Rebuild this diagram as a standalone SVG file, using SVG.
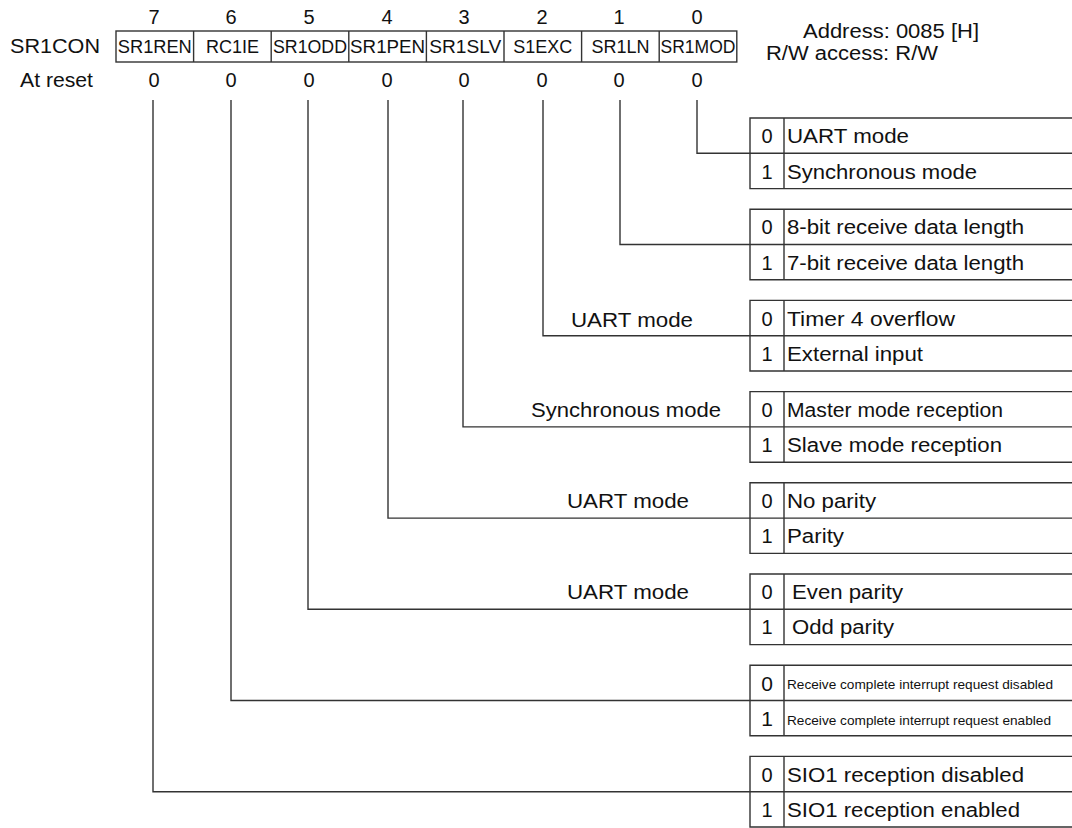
<svg xmlns="http://www.w3.org/2000/svg" width="1072" height="828" viewBox="0 0 1072 828">
<style>
text{font-family:"Liberation Sans",Arial,sans-serif;fill:#111}
.t{font-size:20px}
.c{font-size:18px}
.m{text-anchor:middle}
.e{text-anchor:end}
.s{font-size:13.5px}
.ln{stroke:#333;stroke-width:1.4;fill:none}
.bx{stroke:#333;stroke-width:1.4;fill:#fff}
</style>
<rect width="1072" height="828" fill="#fff"/>
<g id="register">
  <text class="t m" x="154" y="24">7</text>
  <text class="t m" x="231" y="24">6</text>
  <text class="t m" x="309" y="24">5</text>
  <text class="t m" x="387" y="24">4</text>
  <text class="t m" x="464" y="24">3</text>
  <text class="t m" x="542" y="24">2</text>
  <text class="t m" x="619" y="24">1</text>
  <text class="t m" x="697" y="24">0</text>
  <text class="t" x="10" y="53" textLength="90" lengthAdjust="spacingAndGlyphs">SR1CON</text>
  <rect class="bx" x="116" y="31" width="620.8" height="31"/>
  <path class="ln" d="M193.6 31V62M271.2 31V62M348.8 31V62M426.4 31V62M504 31V62M581.6 31V62M659.2 31V62"/>
  <text class="c m" x="154.8" y="52.5" textLength="74" lengthAdjust="spacingAndGlyphs">SR1REN</text>
  <text class="c m" x="232.4" y="52.5">RC1IE</text>
  <text class="c m" x="310" y="52.5" textLength="74" lengthAdjust="spacingAndGlyphs">SR1ODD</text>
  <text class="c m" x="387.6" y="52.5" textLength="75" lengthAdjust="spacingAndGlyphs">SR1PEN</text>
  <text class="c m" x="465.2" y="52.5" textLength="72" lengthAdjust="spacingAndGlyphs">SR1SLV</text>
  <text class="c m" x="542.8" y="52.5">S1EXC</text>
  <text class="c m" x="620.4" y="52.5">SR1LN</text>
  <text class="c m" x="698" y="52.5" textLength="75" lengthAdjust="spacingAndGlyphs">SR1MOD</text>
  <text class="t" x="20" y="87" textLength="73" lengthAdjust="spacingAndGlyphs">At reset</text>
  <text class="t m" x="154" y="87">0</text>
  <text class="t m" x="231" y="87">0</text>
  <text class="t m" x="309" y="87">0</text>
  <text class="t m" x="387" y="87">0</text>
  <text class="t m" x="464" y="87">0</text>
  <text class="t m" x="542" y="87">0</text>
  <text class="t m" x="619" y="87">0</text>
  <text class="t m" x="697" y="87">0</text>
  <text class="t" x="803" y="38" textLength="176" lengthAdjust="spacingAndGlyphs">Address: 0085 [H]</text>
  <text class="t" x="766" y="60" textLength="172" lengthAdjust="spacingAndGlyphs">R/W access: R/W</text>
</g>
<g id="connectors" class="ln">
  <path d="M697 100V153.3H750"/>
  <path d="M620 100V244.5H750"/>
  <path d="M543 100V335.7H750"/>
  <path d="M463 100V426.9H750"/>
  <path d="M388 100V518.1H750"/>
  <path d="M308 100V609.3H750"/>
  <path d="M231 100V700.5H750"/>
  <path d="M153 100V791.7H750"/>
</g>
<g id="bit0">
  <path class="ln" d="M1073 118H750V188.6H1073M750 153.3H1073M784 118V188.6"/>
  <text class="t m" x="767" y="143">0</text><text class="t" x="787" y="143" textLength="122" lengthAdjust="spacingAndGlyphs">UART mode</text>
  <text class="t m" x="767" y="178.5">1</text><text class="t" x="787" y="178.5" textLength="190" lengthAdjust="spacingAndGlyphs">Synchronous mode</text>
</g>
<g id="bit1">
  <path class="ln" d="M1073 209.2H750V279.8H1073M750 244.5H1073M784 209.2V279.8"/>
  <text class="t m" x="767" y="234">0</text><text class="t" x="787" y="234" textLength="237" lengthAdjust="spacingAndGlyphs">8-bit receive data length</text>
  <text class="t m" x="767" y="269.5">1</text><text class="t" x="787" y="269.5" textLength="237" lengthAdjust="spacingAndGlyphs">7-bit receive data length</text>
</g>
<g id="bit2">
  <text class="t" x="571" y="327" textLength="122" lengthAdjust="spacingAndGlyphs">UART mode</text>
  <path class="ln" d="M1073 300.4H750V371H1073M750 335.7H1073M784 300.4V371"/>
  <text class="t m" x="767" y="325.5">0</text><text class="t" x="787" y="325.5" textLength="168" lengthAdjust="spacingAndGlyphs">Timer 4 overflow</text>
  <text class="t m" x="767" y="361">1</text><text class="t" x="787" y="361" textLength="136" lengthAdjust="spacingAndGlyphs">External input</text>
</g>
<g id="bit3">
  <text class="t" x="531" y="417" textLength="190" lengthAdjust="spacingAndGlyphs">Synchronous mode</text>
  <path class="ln" d="M1073 391.6H750V462.2H1073M750 426.9H1073M784 391.6V462.2"/>
  <text class="t m" x="767" y="416.5">0</text><text class="t" x="787" y="416.5" textLength="216" lengthAdjust="spacingAndGlyphs">Master mode reception</text>
  <text class="t m" x="767" y="452">1</text><text class="t" x="787" y="452" textLength="215" lengthAdjust="spacingAndGlyphs">Slave mode reception</text>
</g>
<g id="bit4">
  <text class="t" x="567" y="508" textLength="122" lengthAdjust="spacingAndGlyphs">UART mode</text>
  <path class="ln" d="M1073 482.8H750V553.4H1073M750 518.1H1073M784 482.8V553.4"/>
  <text class="t m" x="767" y="507.5">0</text><text class="t" x="787" y="507.5" textLength="89" lengthAdjust="spacingAndGlyphs">No parity</text>
  <text class="t m" x="767" y="543">1</text><text class="t" x="787" y="543" textLength="57" lengthAdjust="spacingAndGlyphs">Parity</text>
</g>
<g id="bit5">
  <text class="t" x="567" y="599" textLength="122" lengthAdjust="spacingAndGlyphs">UART mode</text>
  <path class="ln" d="M1073 574H750V644.6H1073M750 609.3H1073M784 574V644.6"/>
  <text class="t m" x="767" y="598.5">0</text><text class="t" x="792" y="598.5" textLength="111" lengthAdjust="spacingAndGlyphs">Even parity</text>
  <text class="t m" x="767" y="634">1</text><text class="t" x="792" y="634" textLength="102" lengthAdjust="spacingAndGlyphs">Odd parity</text>
</g>
<g id="bit6">
  <path class="ln" d="M1073 665.2H750V735.8H1073M750 700.5H1073M784 665.2V735.8"/>
  <text class="t m" x="767" y="690.5" style="font-size:21px">0</text><text class="s" x="787" y="689" textLength="266" lengthAdjust="spacingAndGlyphs">Receive complete interrupt request disabled</text>
  <text class="t m" x="767" y="726" style="font-size:21px">1</text><text class="s" x="787" y="724.5" textLength="264" lengthAdjust="spacingAndGlyphs">Receive complete interrupt request enabled</text>
</g>
<g id="bit7">
  <path class="ln" d="M1073 756.4H750V827H1073M750 791.7H1073M784 756.4V827"/>
  <text class="t m" x="767" y="781.5">0</text><text class="t" x="787" y="781.5" textLength="237" lengthAdjust="spacingAndGlyphs">SIO1 reception disabled</text>
  <text class="t m" x="767" y="817">1</text><text class="t" x="787" y="817" textLength="233" lengthAdjust="spacingAndGlyphs">SIO1 reception enabled</text>
</g>
</svg>
